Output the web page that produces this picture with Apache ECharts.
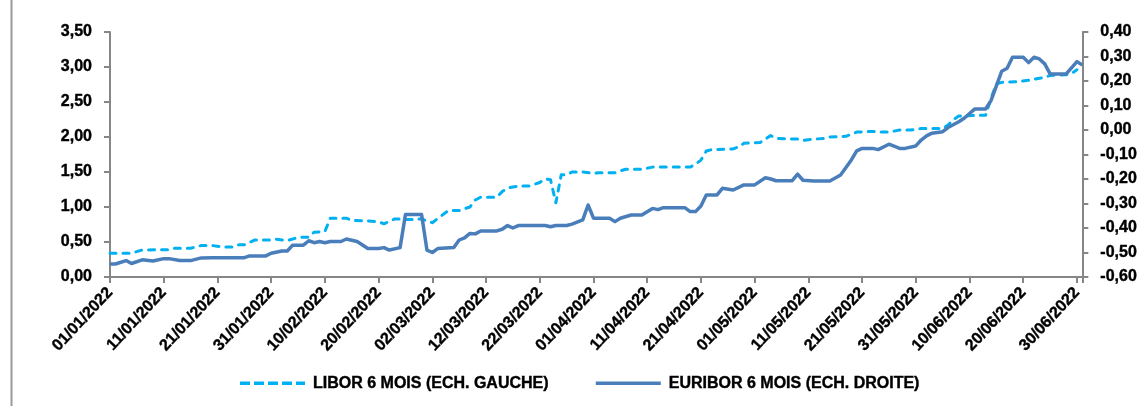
<!DOCTYPE html>
<html>
<head>
<meta charset="utf-8">
<script src="https://cdn.jsdelivr.net/npm/echarts@6/dist/echarts.min.js"></script>
<style>
html,body{margin:0;padding:0;background:#fff;}
#chart{width:1140px;height:406px;}
</style>
</head>
<body>
<div id="chart"></div>
<script>
// ---- Data ----
const YEAR = 2022;
const xTickLabels = ['01/01/2022','11/01/2022','21/01/2022','31/01/2022','10/02/2022','20/02/2022','02/03/2022',
  '12/03/2022','22/03/2022','01/04/2022','11/04/2022','21/04/2022','01/05/2022','11/05/2022','21/05/2022',
  '31/05/2022','10/06/2022','20/06/2022','30/06/2022'];

const liborDates = [
  '01/01','05/01','07/01','11/01','12/01','13/01','16/01','18/01','20/01','22/01','24/01','25/01','26/01','28/01','31/01',
  '01/02','03/02','05/02','07/02','08/02','10/02','11/02','14/02','15/02','18/02','20/02','21/02','23/02','26/02','28/02',
  '01/03','02/03','05/03','07/03','09/03','10/03','11/03','14/03','15/03','16/03','18/03','20/03','22/03','23/03','24/03','25/03','26/03','27/03','28/03','30/03',
  '01/04','02/04','05/04','07/04','10/04','12/04','19/04','20/04','21/04','22/04','23/04','27/04','28/04','29/04',
  '02/05','04/05','05/05','09/05','10/05','12/05','14/05','15/05','18/05','20/05','23/05','24/05','26/05','28/05','30/05',
  '01/06','05/06','06/06','07/06','08/06','12/06','13/06','14/06','15/06','16/06','19/06','21/06','23/06','24/06','25/06','28/06','29/06','30/06'
];
const liborValues = [
  0.34,0.34,0.386,0.39,0.39,0.41,0.41,0.45,0.45,0.43,0.43,0.46,0.46,0.53,0.53,
  0.54,0.52,0.565,0.57,0.64,0.65,0.84,0.84,0.81,0.80,0.79,0.76,0.83,0.82,0.83,
  0.80,0.776,0.95,0.95,1.00,1.10,1.14,1.14,1.22,1.27,1.30,1.30,1.35,1.40,1.39,1.06,1.46,1.46,1.50,1.50,
  1.48,1.49,1.49,1.54,1.54,1.57,1.57,1.61,1.67,1.80,1.82,1.83,1.86,1.91,
  1.92,2.02,1.98,1.97,1.95,1.97,1.98,2.00,2.01,2.07,2.08,2.07,2.07,2.10,2.10,
  2.12,2.12,2.17,2.25,2.30,2.31,2.31,2.55,2.76,2.78,2.79,2.81,2.84,2.85,2.88,2.89,2.91,2.96
];

const euriborDates = [
  '01/01','02/01','04/01','05/01','07/01','09/01','11/01','12/01','14/01','16/01','18/01','20/01','26/01','27/01','30/01','31/01',
  '02/02','03/02','04/02','06/02','07/02','08/02','09/02','10/02','11/02','13/02','14/02','16/02','18/02','20/02','21/02','22/02','24/02','25/02','28/02',
  '01/03','02/03','03/03','06/03','07/03','08/03','09/03','10/03','11/03','14/03','15/03','16/03','17/03','18/03','23/03','24/03','25/03','27/03','28/03','30/03','31/03',
  '01/04','04/04','05/04','06/04','08/04','10/04','12/04','13/04','14/04','18/04','19/04','20/04','21/04','22/04','24/04','25/04','27/04','29/04',
  '01/05','03/05','04/05','05/05','08/05','09/05','10/05','12/05','15/05','17/05','19/05','20/05','21/05','23/05','24/05','26/05','28/05','29/05','31/05',
  '01/06','02/06','03/06','05/06','06/06','08/06','09/06','11/06','13/06','14/06','16/06','17/06','18/06','20/06','21/06','22/06','23/06','24/06','25/06','28/06','30/06','01/07'
];
const euriborValues = [
  -0.547,-0.547,-0.533,-0.545,-0.530,-0.535,-0.525,-0.525,-0.533,-0.533,-0.522,-0.521,-0.521,-0.514,-0.514,-0.503,
  -0.494,-0.494,-0.470,-0.470,-0.452,-0.460,-0.455,-0.460,-0.455,-0.455,-0.445,-0.455,-0.484,-0.484,-0.480,-0.490,-0.480,-0.345,-0.345,
  -0.490,-0.500,-0.484,-0.480,-0.449,-0.440,-0.422,-0.424,-0.412,-0.412,-0.405,-0.390,-0.400,-0.390,-0.390,-0.395,-0.390,-0.390,-0.384,-0.367,-0.306,
  -0.360,-0.360,-0.374,-0.360,-0.347,-0.347,-0.320,-0.325,-0.317,-0.317,-0.333,-0.333,-0.310,-0.265,-0.265,-0.238,-0.245,-0.224,
  -0.224,-0.195,-0.200,-0.207,-0.207,-0.180,-0.205,-0.208,-0.208,-0.184,-0.122,-0.085,-0.075,-0.075,-0.080,-0.058,-0.075,-0.075,-0.065,
  -0.041,-0.024,-0.013,-0.007,0.010,0.034,0.048,0.086,0.086,0.120,0.240,0.252,0.297,0.297,0.275,0.297,0.290,0.270,0.229,0.229,0.279,0.265
];

const seriesNames = ['LIBOR 6 MOIS (ECH. GAUCHE)', 'EURIBOR 6 MOIS (ECH. DROITE)'];
const seriesColors = ['#00B0F0', '#4A7EBB'];

// ---- Helpers ----
const BASE = Date.UTC(YEAR, 0, 1);
function dayIndex(s) {
  const p = s.split('/').map(Number);
  return (Date.UTC(YEAR, p[1] - 1, p[0]) - BASE) / 86400000;
}
function pairs(dates, values) {
  return dates.map((d, i) => [dayIndex(d), values[i]]);
}
function fmt(v) {
  if (Math.abs(v) < 1e-9) v = 0;
  return v.toFixed(2).replace('.', ',');
}

const FONT = "'Liberation Sans', Arial, sans-serif";
const AXIS_COLOR = '#868686';
const labelStyle = {
  fontFamily: FONT, fontWeight: 'bold', fontSize: 16, color: '#000',
  textBorderColor: '#000', textBorderWidth: 0.4
};

const chart = echarts.init(document.getElementById('chart'), null, { renderer: 'canvas' });
chart.setOption({
  animation: false,
  backgroundColor: '#fff',
  graphic: [{
    type: 'line', silent: true,
    shape: { x1: 11.5, y1: 0, x2: 11.5, y2: 406 },
    style: { stroke: '#9a9a9a', lineWidth: 2 }
  }],
  grid: { left: 110, right: 47, top: 32, bottom: 129 },
  legend: {
    data: [
      { name: seriesNames[0], icon: 'path://M0,0h10v3.5h-10z M14,0h10v3.5h-10z M28,0h10v3.5h-10z M42,0h10v3.5h-10z M56,0h9v3.5h-9z' },
      { name: seriesNames[1], icon: 'path://M0,0h65v3.5h-65z' }
    ],
    left: 240, top: 375, padding: 0,
    itemWidth: 65, itemHeight: 3.5, itemGap: 47,
    textStyle: Object.assign({ padding: [0, 0, 0, 3] }, labelStyle)
  },
  xAxis: {
    type: 'value', min: 0, max: 181, interval: 10,
    axisLine: { show: true, lineStyle: { color: AXIS_COLOR, width: 2 } },
    axisTick: { show: true, length: 6, lineStyle: { color: AXIS_COLOR, width: 2 } },
    splitLine: { show: false },
    axisLabel: Object.assign({
      rotate: 47, margin: 13,
      showMinLabel: true, showMaxLabel: true,
      formatter: function (v) {
        const i = Math.round(v / 10);
        return (Math.abs(v - i * 10) < 1e-6 && xTickLabels[i]) ? xTickLabels[i] : '';
      }
    }, labelStyle)
  },
  yAxis: [{
    type: 'value', position: 'left', min: 0, max: 3.5, interval: 0.5,
    axisLine: { show: true, lineStyle: { color: AXIS_COLOR, width: 2 } },
    axisTick: { show: true, length: 6, lineStyle: { color: AXIS_COLOR, width: 2 } },
    splitLine: { show: false },
    axisLabel: Object.assign({ margin: 18, formatter: fmt }, labelStyle)
  }, {
    type: 'value', position: 'right', min: -0.6, max: 0.4, interval: 0.1,
    axisLine: { show: true, lineStyle: { color: AXIS_COLOR, width: 2 } },
    axisTick: { show: true, length: 6, lineStyle: { color: AXIS_COLOR, width: 2 } },
    splitLine: { show: false },
    axisLabel: Object.assign({ margin: 18, formatter: fmt }, labelStyle)
  }],
  series: [{
    name: seriesNames[0], type: 'line', yAxisIndex: 0,
    data: pairs(liborDates, liborValues),
    symbol: 'none', showSymbol: false,
    itemStyle: { color: seriesColors[0] },
    lineStyle: { color: seriesColors[0], width: 3, type: [6, 7], cap: 'round', join: 'round' },
    z: 2
  }, {
    name: seriesNames[1], type: 'line', yAxisIndex: 1,
    data: pairs(euriborDates, euriborValues),
    symbol: 'none', showSymbol: false,
    itemStyle: { color: seriesColors[1] },
    lineStyle: { color: seriesColors[1], width: 3.5, join: 'round' },
    z: 3
  }]
});
</script>
</body>
</html>
